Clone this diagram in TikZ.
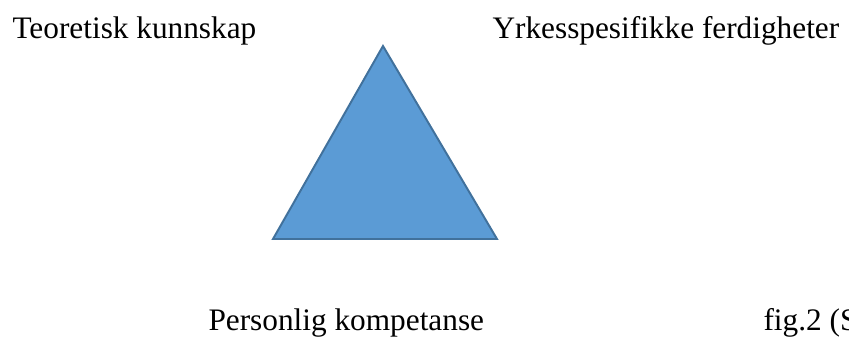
\documentclass[tikz,border=0pt]{standalone}
\usepackage{fontspec}
\setmainfont{Liberation Serif}
\usepackage{xcolor}
\usetikzlibrary{positioning}
\definecolor{trifill}{RGB}{91,155,213}
\definecolor{triedge}{RGB}{65,113,156}

\begin{document}
\begin{tikzpicture}[x=0.3834pt, y=-0.3834pt, font=\fontsize{12}{14}\selectfont,
  label/.style={anchor=base west, inner sep=0pt}]
  \useasboundingbox (0,0) rectangle (849,338);
  % Top row: the two corner labels
  \node[label] (teori) at (12,38) {Teoretisk kunnskap};
  \node[label] (yrke) at (492,38) {Yrkesspesifikke ferdigheter};
  % Triangle in the middle
  \filldraw[fill=trifill, draw=triedge, line width=0.75pt, line join=miter]
    (383,46) -- (273,239) -- (497,239) -- cycle;
  % Bottom row: third label and figure note
  \node[label] (person) at (208,330) {Personlig kompetanse};
  \node[label] (figtekst) at (763,330) {fig.2 (S};
\end{tikzpicture}
\end{document}
